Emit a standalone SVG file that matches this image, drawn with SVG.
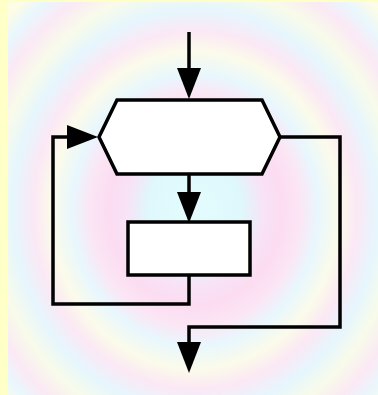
<svg xmlns="http://www.w3.org/2000/svg" width="378" height="395" viewBox="0 0 378 395">
<defs>
<radialGradient id="bg" gradientUnits="userSpaceOnUse" cx="195" cy="210" r="270" gradientTransform="translate(195 210) scale(0.95 1.05) translate(-195 -210)">
<stop offset="0" stop-color="#e4fcfd"/>
<stop offset="0.18" stop-color="#def8fc"/>
<stop offset="0.27" stop-color="#f8e2f6"/>
<stop offset="0.34" stop-color="#fcdcf1"/>
<stop offset="0.41" stop-color="#fbe6f5"/>
<stop offset="0.48" stop-color="#e8f7fd"/>
<stop offset="0.56" stop-color="#fbfbea"/>
<stop offset="0.63" stop-color="#fbe8f5"/>
<stop offset="0.71" stop-color="#e6f6fd"/>
<stop offset="0.79" stop-color="#f8fbea"/>
<stop offset="0.87" stop-color="#fbe9f5"/>
<stop offset="0.94" stop-color="#e9f7fd"/>
<stop offset="1" stop-color="#fdfce6"/>
</radialGradient>
<marker id="ah" viewBox="0 0 31 24" refX="0" refY="12" markerWidth="31" markerHeight="24" markerUnits="userSpaceOnUse" orient="auto">
<path d="M0,0 L31,12 L0,24 z" fill="#000"/>
</marker>
</defs>
<style>
.shape{fill:#fff;stroke:#000;stroke-width:3.5;stroke-linejoin:miter}
.conn{fill:none;stroke:#000;stroke-width:3.5;stroke-linejoin:miter}
</style>
<rect width="378" height="395" fill="#ffffc8"/>
<rect x="8" y="2" width="370" height="393" fill="url(#bg)"/>
<g id="connectors">
<path class="conn" d="M189,32 V68" marker-end="url(#ah)"/>
<path class="conn" d="M189,174 V192" marker-end="url(#ah)"/>
<path class="conn" d="M189,275 V304 H53 V137 H67" marker-end="url(#ah)"/>
<path class="conn" d="M280,137 H340 V327 H189 V342" marker-end="url(#ah)"/>
</g>
<g id="loop-condition">
<polygon class="shape" points="99,137 117,100 262,100 280,137 262,174 117,174"/>
</g>
<g id="loop-body">
<rect class="shape" x="128" y="222" width="122" height="53"/>
</g>
</svg>
